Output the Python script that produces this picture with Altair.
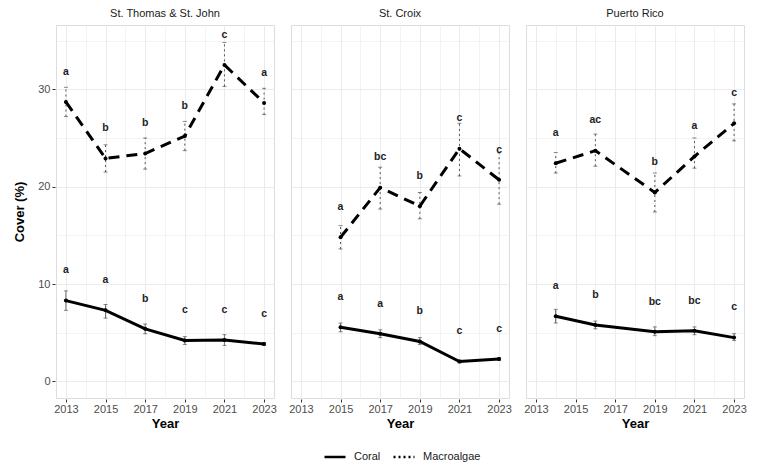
import altair as alt
import pandas as pd

regions = ["St. Thomas & St. John", "St. Croix", "Puerto Rico"]

years_stt = [2013, 2015, 2017, 2019, 2021, 2023]
coral_stt = [8.3, 7.3, 5.4, 4.2, 4.25, 3.85]
coral_stt_lo = [7.3, 6.5, 4.9, 3.8, 3.7, 3.7]
coral_stt_hi = [9.3, 7.9, 5.9, 4.6, 4.8, 4.0]
coral_stt_let = ["a", "a", "b", "c", "c", "c"]
macro_stt = [28.7, 22.9, 23.4, 25.2, 32.5, 28.6]
macro_stt_lo = [27.2, 21.5, 21.8, 23.7, 30.3, 27.4]
macro_stt_hi = [30.2, 24.3, 25.0, 26.7, 34.8, 30.1]
macro_stt_let = ["a", "b", "b", "b", "c", "a"]

years_stx = [2015, 2017, 2019, 2021, 2023]
coral_stx = [5.56, 4.9, 4.1, 2.05, 2.3]
coral_stx_lo = [5.1, 4.5, 3.8, 1.9, 2.15]
coral_stx_hi = [6.0, 5.3, 4.5, 2.2, 2.45]
coral_stx_let = ["a", "a", "b", "c", "c"]
macro_stx = [14.8, 19.9, 18.0, 23.9, 20.7]
macro_stx_lo = [13.6, 17.7, 16.7, 21.1, 18.2]
macro_stx_hi = [16.0, 22.0, 19.4, 26.5, 23.5]
macro_stx_let = ["a", "bc", "b", "c", "c"]

years_pr = [2014, 2016, 2019, 2021, 2023]
coral_pr = [6.7, 5.8, 5.1, 5.2, 4.5]
coral_pr_lo = [6.0, 5.4, 4.7, 4.8, 4.2]
coral_pr_hi = [7.4, 6.2, 5.6, 5.6, 4.9]
coral_pr_let = ["a", "b", "bc", "bc", "c"]
macro_pr = [22.4, 23.7, 19.4, 23.1, 26.5]
macro_pr_lo = [21.4, 22.1, 17.4, 21.9, 24.7]
macro_pr_hi = [23.5, 25.4, 21.4, 25.0, 28.5]
macro_pr_let = ["a", "ac", "b", "a", "c"]

x_ticks = list(range(2013, 2024))
y_ticks = [0, 5, 10, 15, 20, 25, 30, 35]

rows = []
def add(region, typ, years, m, lo, hi, let):
    for i in range(len(years)):
        rows.append(dict(Region=region, Type=typ, Year=years[i], mean=m[i],
                         lo=lo[i], hi=hi[i], letter=let[i]))

add(regions[0], "Coral", years_stt, coral_stt, coral_stt_lo, coral_stt_hi, coral_stt_let)
add(regions[0], "Macroalgae", years_stt, macro_stt, macro_stt_lo, macro_stt_hi, macro_stt_let)
add(regions[1], "Coral", years_stx, coral_stx, coral_stx_lo, coral_stx_hi, coral_stx_let)
add(regions[1], "Macroalgae", years_stx, macro_stx, macro_stx_lo, macro_stx_hi, macro_stx_let)
add(regions[2], "Coral", years_pr, coral_pr, coral_pr_lo, coral_pr_hi, coral_pr_let)
add(regions[2], "Macroalgae", years_pr, macro_pr, macro_pr_lo, macro_pr_hi, macro_pr_let)
df = pd.DataFrame(rows)

xaxis = alt.Axis(values=x_ticks, format="d", title="Year",
                 labelExpr="datum.value % 2 == 1 ? datum.label : ''",
                 tickOpacity={"condition": {"test": "datum.value % 2 == 1", "value": 1}, "value": 0},
                 gridWidth={"condition": {"test": "datum.value % 2 == 1", "value": 1}, "value": 0.6},
                 gridColor="#ebebeb", domain=False, tickColor="#333333", tickSize=3,
                 labelColor="#4d4d4d", labelFontSize=11, labelPadding=1,
                 titleFontSize=13, titleFontWeight="bold", titleColor="black", titlePadding=3)
yaxis = alt.Axis(values=y_ticks, title="Cover (%)",
                 labelExpr="datum.value % 10 == 0 ? datum.label : ''",
                 tickOpacity={"condition": {"test": "datum.value % 10 == 0", "value": 1}, "value": 0},
                 gridWidth={"condition": {"test": "datum.value % 10 == 0", "value": 1}, "value": 0.6},
                 gridColor="#ebebeb", domain=False, tickColor="#333333", tickSize=3,
                 labelColor="#4d4d4d", labelFontSize=11, labelPadding=2,
                 titleFontSize=13, titleFontWeight="bold", titleColor="black", titlePadding=11)

xs = alt.Scale(domain=[2012.5, 2023.5], nice=False, zero=False)
ys = alt.Scale(domain=[-1.7, 36.6], nice=False, zero=False)

X = alt.X("Year:Q", scale=xs, axis=xaxis, title="Year")
def Y(f):
    return alt.Y(f + ":Q", scale=ys, axis=yaxis, title="Cover (%)")

base = alt.Chart()

line_c = base.transform_filter("datum.Type == 'Coral'").mark_line(
    color="black", strokeWidth=3).encode(x=X, y=Y("mean"))
line_m = base.transform_filter("datum.Type == 'Macroalgae'").mark_line(
    color="black", strokeWidth=3, strokeDash=[11, 7]).encode(x=X, y=Y("mean"))
pts = base.mark_circle(size=16, color="black", opacity=1).encode(x=X, y=Y("mean"))
err = base.mark_rule(color="#555555", strokeWidth=1).encode(
    x=X, y=Y("lo"), y2="hi:Q",
    strokeDash=alt.StrokeDash("Type:N", scale=alt.Scale(domain=["Coral", "Macroalgae"], range=[[1, 0], [2, 3]]),
                              legend=alt.Legend(title=None, orient="none", direction="horizontal",
                                                legendX=267, legendY=420,
                                                symbolType="stroke", symbolStrokeColor="black",
                                                symbolStrokeWidth=2.5, symbolSize=440,
                                                labelFontSize=11, labelColor="#1a1a1a",
                                                columnPadding=7, labelOffset=7)),
)
cap_lo = base.mark_tick(color="#555555", orient="horizontal", size=4, thickness=1).encode(x=X, y=Y("lo"))
cap_hi = base.mark_tick(color="#555555", orient="horizontal", size=4, thickness=1).encode(x=X, y=Y("hi"))
txt = base.transform_calculate(ly="datum.mean + 3.1").mark_text(
    fontWeight="bold", fontSize=10.5, color="#222222").encode(x=X, y=Y("ly"), text="letter:N")

layered = alt.layer(err, cap_lo, cap_hi, line_c, line_m, pts, txt, data=df).properties(
    width=218, height=373)

chart = layered.facet(
    column=alt.Column("Region:N", sort=regions, title=None,
                      header=alt.Header(labelFontSize=11, labelColor="#1a1a1a", labelPadding=5)),
    spacing=15,
).properties(padding={"left": 5, "top": 0, "right": 5, "bottom": 5}
).configure_view(stroke="#a8a8a8", strokeWidth=1).configure(font="Liberation Sans")

chart.save("out.html", embed_options={"renderer": "svg", "actions": False})
